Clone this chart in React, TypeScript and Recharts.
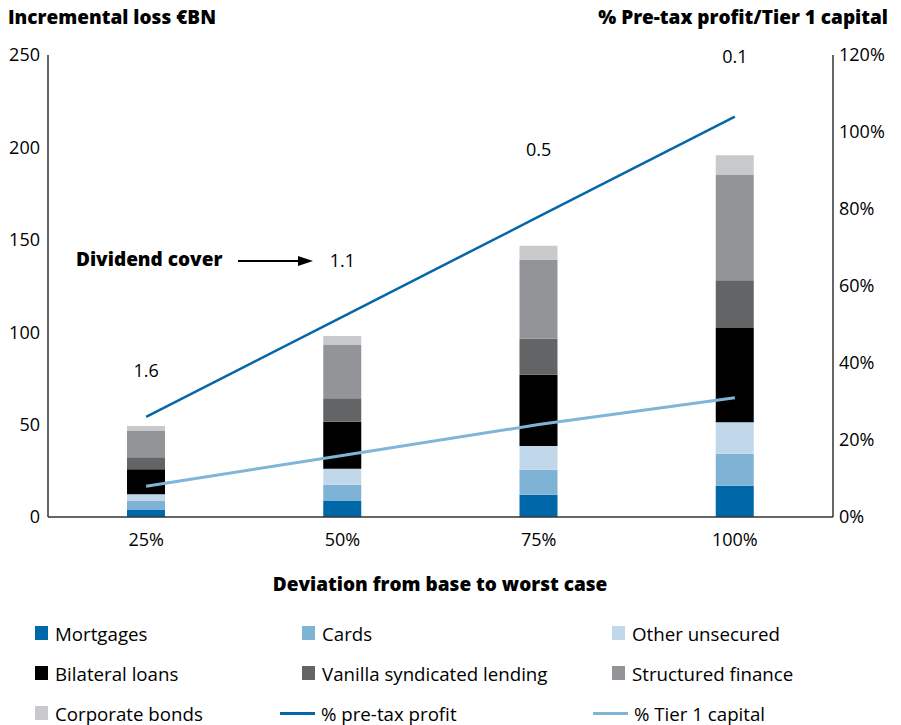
import React from 'react';
import { ComposedChart, Bar, Line, XAxis, YAxis, ReferenceDot } from 'recharts';

const categories = ['25%', '50%', '75%', '100%'];
const mortgages = [3.8, 8.7, 12.1, 16.9];
const cards = [4.9, 8.7, 13.5, 17.3];
const otherUnsecured = [3.6, 8.7, 12.8, 17.1];
const bilateralLoans = [13.5, 25.4, 38.6, 51.0];
const vanillaSyndicated = [6.5, 12.8, 19.5, 25.8];
const structuredFinance = [14.2, 28.8, 42.7, 57.0];
const corporateBonds = [2.7, 4.9, 7.6, 10.7];
const preTaxProfit = [26, 52, 78, 104];
const tier1Capital = [8, 16, 24, 31];
const dividendCover = ['1.6', '1.1', '0.5', '0.1'];
const dividendCoverLabelLevel = [79, 139, 199, 249];
const leftTicks = [0, 50, 100, 150, 200, 250];
const rightTicks = [0, 20, 40, 60, 80, 100, 120];

const FONT = '"Open Sans", "DejaVu Sans", sans-serif';

const barSeries = [
  { key: 'mortgages', name: 'Mortgages', color: '#0068a8' },
  { key: 'cards', name: 'Cards', color: '#7fb3d6' },
  { key: 'otherUnsecured', name: 'Other unsecured', color: '#c1d8eb' },
  { key: 'bilateralLoans', name: 'Bilateral loans', color: '#000000' },
  { key: 'vanillaSyndicated', name: 'Vanilla syndicated lending', color: '#636466' },
  { key: 'structuredFinance', name: 'Structured finance', color: '#939498' },
  { key: 'corporateBonds', name: 'Corporate bonds', color: '#c8c9cb' },
];
const lineSeries = [
  { key: 'preTaxProfit', name: '% pre-tax profit', color: '#0567a8' },
  { key: 'tier1Capital', name: '% Tier 1 capital', color: '#80b4d8' },
];

const data = categories.map((c, i) => ({
  category: c,
  mortgages: mortgages[i],
  cards: cards[i],
  otherUnsecured: otherUnsecured[i],
  bilateralLoans: bilateralLoans[i],
  vanillaSyndicated: vanillaSyndicated[i],
  structuredFinance: structuredFinance[i],
  corporateBonds: corporateBonds[i],
  preTaxProfit: preTaxProfit[i],
  tier1Capital: tier1Capital[i],
}));

const legendItems = [
  [barSeries[0], barSeries[1], barSeries[2]],
  [barSeries[3], barSeries[4], barSeries[5]],
  [barSeries[6], lineSeries[0], lineSeries[1]],
];

const boldStyle = { fontSize: 19, fontWeight: 800, color: '#000', whiteSpace: 'nowrap' as const };

export default function App() {
  return (
    <div style={{ position: 'absolute', left: 0, top: 0, width: 901, height: 725, background: '#fff', fontFamily: FONT }}>
      <ComposedChart
        width={901}
        height={725}
        data={data}
        margin={{ top: 55, right: 0, left: 0, bottom: 178 }}
        barCategoryGap={0}
      >
        <XAxis
          dataKey="category"
          height={30}
          tickLine={false}
          tickMargin={10}
          axisLine={{ stroke: '#333', strokeWidth: 1.5 }}
          tick={{ fill: '#000', fontSize: 18, fontFamily: FONT }}
        />
        <YAxis
          yAxisId="left"
          width={48}
          domain={[0, 250]}
          ticks={leftTicks}
          tickLine={false}
          axisLine={{ stroke: '#333', strokeWidth: 1.5 }}
          tick={{ fill: '#000', fontSize: 18, fontFamily: FONT }}
        />
        <YAxis
          yAxisId="right"
          orientation="right"
          width={68}
          domain={[0, 120]}
          ticks={rightTicks}
          tickLine={false}
          tickMargin={0}
          tickFormatter={(v: number) => `${v}%`}
          axisLine={{ stroke: '#333', strokeWidth: 1.5 }}
          tick={{ fill: '#000', fontSize: 18, fontFamily: FONT }}
        />
        {barSeries.map((s) => (
          <Bar
            key={s.key}
            dataKey={s.key}
            name={s.name}
            stackId="loss"
            yAxisId="left"
            fill={s.color}
            barSize={38}
            isAnimationActive={false}
          />
        ))}
        <Line
          dataKey="preTaxProfit"
          yAxisId="right"
          stroke={lineSeries[0].color}
          strokeWidth={2.5}
          dot={false}
          isAnimationActive={false}
        />
        <Line
          dataKey="tier1Capital"
          yAxisId="right"
          stroke={lineSeries[1].color}
          strokeWidth={3}
          dot={false}
          isAnimationActive={false}
        />
        {categories.map((c, i) => (
          <ReferenceDot
            key={c}
            x={c}
            y={dividendCoverLabelLevel[i]}
            yAxisId="left"
            r={0}
            fill="none"
            stroke="none"
            label={{ value: dividendCover[i], position: 'center', fill: '#000', fontSize: 18, fontFamily: FONT }}
          />
        ))}
      </ComposedChart>

      <div style={{ position: 'absolute', left: 8, top: 4, ...boldStyle }}>
        Incremental loss €BN
      </div>
      <div style={{ position: 'absolute', right: 13, top: 4, ...boldStyle }}>
        % Pre-tax profit/Tier 1 capital
      </div>
      <div style={{ position: 'absolute', left: 76, top: 246, ...boldStyle }}>
        Dividend cover
      </div>
      <svg style={{ position: 'absolute', left: 236, top: 252 }} width={80} height={18}>
        <line x1={2} y1={9} x2={64} y2={9} stroke="#000" strokeWidth={2} />
        <polygon points="62,4 77,9 62,14" fill="#000" />
      </svg>
      <div style={{ position: 'absolute', left: 0, width: 880, top: 571, textAlign: 'center', ...boldStyle }}>
        Deviation from base to worst case
      </div>

      {legendItems.map((row, r) =>
        row.map((item, c) => {
          const isLine = item.key === 'preTaxProfit' || item.key === 'tier1Capital';
          const colX = [35, 302, 612][c];
          const lineX = [35, 280, 593][c];
          const top = 621 + r * 40;
          return (
            <div
              key={item.key}
              style={{ position: 'absolute', left: isLine ? lineX : colX, top, height: 24, display: 'flex', alignItems: 'center', fontSize: 18.7, color: '#000', whiteSpace: 'nowrap' }}
            >
              {isLine ? (
                <span style={{ display: 'inline-block', width: 35, height: 3, background: item.color, marginRight: 6 }} />
              ) : (
                <span style={{ display: 'inline-block', width: 13, height: 14, background: item.color, marginRight: 7 }} />
              )}
              <span>{item.name}</span>
            </div>
          );
        })
      )}
    </div>
  );
}
